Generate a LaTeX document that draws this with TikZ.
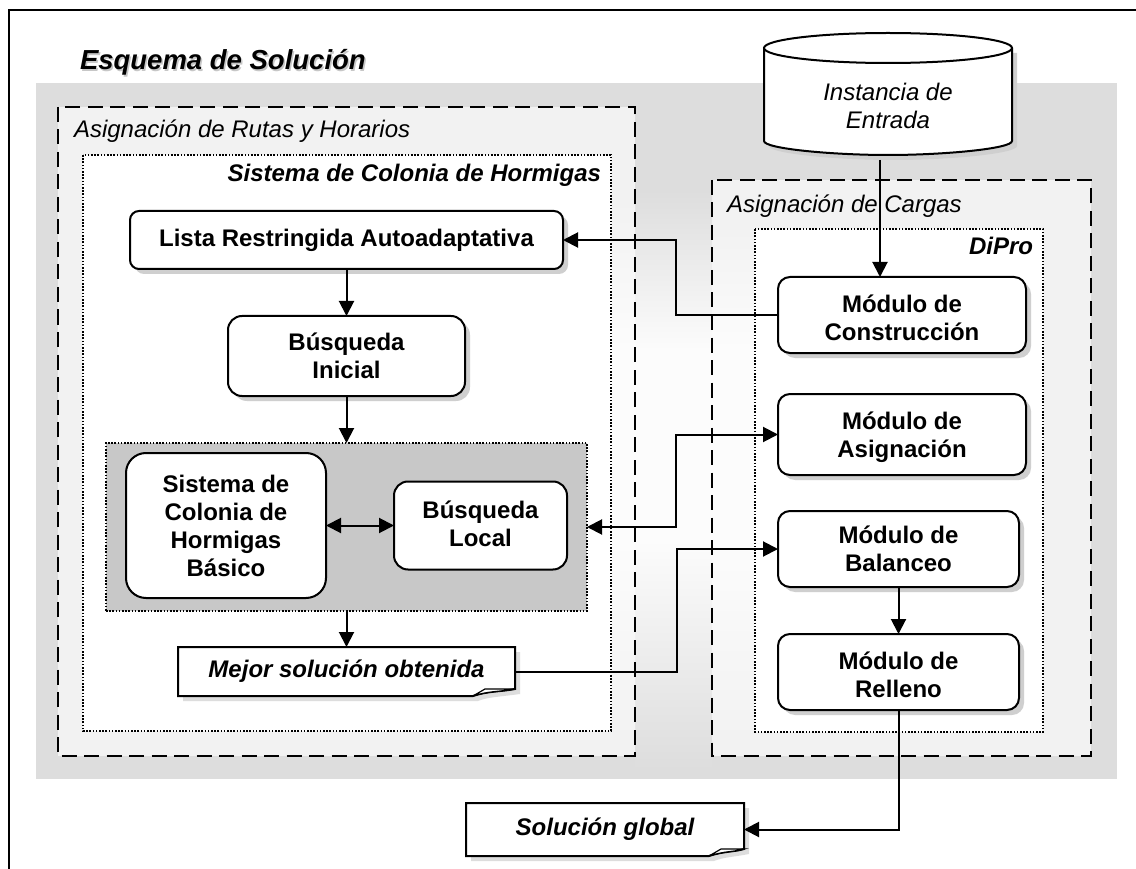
\documentclass[tikz,border=0pt]{standalone}
\usepackage{fontspec}
\setmainfont{Liberation Sans}
\usetikzlibrary{arrows.meta,shapes.geometric,shadows}
\definecolor{bandgray}{HTML}{DDDDDD}
\definecolor{panelgray}{HTML}{F2F2F2}
\definecolor{glow}{HTML}{FCFCFC}
\definecolor{innergray}{HTML}{C8C8C8}
\definecolor{shadowgray}{HTML}{CFCFCF}
\newcommand{\bfit}{\bfseries\itshape}
\newcommand{\dtext}{\fontsize{24}{28}\selectfont}
\newcommand{\toppad}{\rule{0pt}{24pt}}
\tikzset{
  base/.style={inner sep=0pt,outer sep=0pt,align=center,font=\dtext},
  modbox/.style={base,draw=black,line width=2pt,fill=white,font=\dtext\bfseries,
    drop shadow={shadow xshift=5pt,shadow yshift=-5pt,fill=shadowgray,opacity=1}},
  dashbox/.style={draw=black,line width=2pt,dash pattern=on 15pt off 7.5pt},
  dotbox/.style={draw=black,line width=1.5pt,dash pattern=on 1.6pt off 1.6pt},
  arr/.style={line width=2pt,-{Triangle[length=15pt,width=15pt]}},
  dblarr/.style={line width=2pt,{Triangle[length=15pt,width=15pt]}-{Triangle[length=15pt,width=15pt]}},
  label/.style={base,anchor=base west}
}
\newcommand{\docnode}[8]{%
  \fill[shadowgray!70] (#2+5,#3+5) -- (#4+5,#3+5) -- (#4+5,#7+5) .. controls (#6+25,#7+8) and (#6+15,#7+8) .. (#6+5,#5+5) -- (#2+5,#5+5) -- cycle;
  \draw[line width=2pt,fill=white,line join=miter] (#2,#3) -- (#4,#3) -- (#4,#7) .. controls (#6+25,#7+3) and (#6+15,#7+2) .. (#6,#5) -- (#2,#5) -- cycle;
  \draw[line width=1.2pt,fill=white] (#6,#5) -- (#6+12,#7) -- (#4,#7) .. controls (#6+25,#7+3) and (#6+15,#7+2) .. (#6,#5);
  \node[base,font=\dtext\bfit,minimum width=#4pt-#2pt,minimum height=#5pt-#3pt] (#1) at ({(#2+#4)/2},{(#3+#5)/2}) {#8};
}
\begin{document}
\begin{tikzpicture}[x=1pt,y=-1pt]
\useasboundingbox (0,0) rectangle (1136,869);
% outer frame
\coordinate (fa) at (1136,10); \coordinate (fb) at (9,10); \coordinate (fc) at (9,869);
\draw[line width=2.2pt] (fa) -- (fb) -- (fc);
% background band
\fill[bandgray] (36,83) rectangle (1117,779);
\fill[panelgray] (58,107) rectangle (635,756);
\fill[panelgray] (712,180) rectangle (1091,756);
% soft light region between the two panels
\shade[top color=bandgray,bottom color=glow] (635,190) rectangle (712,350);
\fill[glow] (635,350) rectangle (712,540);
\shade[top color=glow,bottom color=bandgray] (635,540) rectangle (712,770);
\shade[top color=panelgray,bottom color=glow] (611,200) rectangle (635,350);
\fill[glow] (611,350) rectangle (635,540);
\shade[top color=glow,bottom color=panelgray] (611,540) rectangle (635,740);
\shade[top color=panelgray,bottom color=glow] (712,230) rectangle (755,350);
\fill[glow] (712,350) rectangle (755,540);
\shade[top color=glow,bottom color=panelgray] (712,540) rectangle (755,740);
% panels
\draw[dashbox] (58,107) rectangle (635,756);
\draw[dashbox] (712,180) rectangle (1091,756);
\draw[dotbox,fill=white] (83,155) rectangle (611,731);
\draw[dotbox,fill=white] (755,229) rectangle (1043,732);
% labels
\node[label,font=\fontsize{27.5}{30}\selectfont\bfit,text=black!22] (titleshadow) at (81.5,71.5) {Esquema de Solución};
\node[label,font=\fontsize{27.5}{30}\selectfont\bfit] (title) at (80,70) {Esquema de Solución};
\node[label,font=\dtext\itshape] (lrutas) at (74,138) {Asignación de Rutas y Horarios};
\node[base,anchor=base east,font=\dtext\bfit] (lsch) at (601,182) {Sistema de Colonia de Hormigas};
\node[label,font=\dtext\itshape] (lcargas) at (727,213) {Asignación de Cargas};
\node[base,anchor=base east,font=\dtext\bfit] (ldipro) at (1033,255) {DiPro};
% grey group
\node[base,dotbox,fill=innergray,minimum width=481pt,minimum height=168pt] (inner) at (346.5,527) {};
% modules
\node[modbox,rounded corners=9pt,minimum width=433pt,minimum height=58pt] (lista) at (346.5,240) {Lista Restringida Autoadaptativa};
\node[modbox,rounded corners=14pt,minimum width=237pt,minimum height=80pt] (inicial) at (346.5,356) {Búsqueda\\Inicial};
\node[base,draw=black,line width=2pt,fill=white,font=\dtext\bfseries,rounded corners=20pt,minimum width=200pt,minimum height=145pt] (basico) at (226,525.5) {Sistema de\\Colonia de\\Hormigas\\Básico};
\node[base,draw=black,line width=2pt,fill=white,font=\dtext\bfseries,rounded corners=14pt,minimum width=173pt,minimum height=88pt] (local) at (480.5,525.5) {Búsqueda\\Local\rule[-4pt]{0pt}{4pt}};
\node[modbox,rounded corners=12pt,minimum width=248pt,minimum height=76pt] (constr) at (902,315) {\toppad Módulo de\\Construcción};
\node[modbox,rounded corners=12pt,minimum width=248pt,minimum height=81pt] (asig) at (902,434.5) {\toppad Módulo de\\Asignación};
\node[modbox,rounded corners=12pt,minimum width=241pt,minimum height=76pt] (bal) at (898.5,549) {Módulo de\\Balanceo};
\node[modbox,rounded corners=12pt,minimum width=241pt,minimum height=76pt] (rell) at (898.5,672) {\toppad Módulo de\\Relleno};
% database
\fill[shadowgray] (769,53) -- (769,146) .. controls (769,153.7) and (837,160) .. (893,160) .. controls (949,160) and (1017,153.7) .. (1017,146) -- (1017,53) -- cycle;
\draw[line width=2pt,fill=white] (764,48) -- (764,141) .. controls (764,148.7) and (832,155) .. (888,155) .. controls (944,155) and (1012,148.7) .. (1012,141) -- (1012,48);
\draw[line width=2pt,fill=white] (888,48) ellipse [x radius=124,y radius=15];
\node[base,font=\dtext\itshape] (cyl) at (888,106) {Instancia de\\Entrada};
% documents
\docnode{mejor}{178}{647}{515}{696}{473}{689}{Mejor solución obtenida}
\docnode{sol}{466}{803}{744}{856}{709}{849}{Solución global}
% connectors
\coordinate (cs) at (880,160); \coordinate (ct) at (880,277);
\draw[arr] (cs) -- (ct);
\draw[arr] (lista) -- (inicial);
\draw[arr] (inicial) -- (inner);
\draw[arr] (inner) -- (mejor);
\draw[dblarr] (basico) -- (local);
\coordinate (j1) at (676,315); \coordinate (j1b) at (676,240);
\draw[arr] (constr.west) -- (j1) -- (j1b) -- (lista.east);
\coordinate (j2) at (676,527); \coordinate (j2b) at (676,434.5);
\draw[dblarr] (inner.east) -- (j2) -- (j2b) -- (asig.west);
\coordinate (j3) at (677,671.5); \coordinate (j3b) at (677,549);
\draw[arr] (mejor.east) -- (j3) -- (j3b) -- (bal.west);
\draw[arr] (bal) -- (rell);
\coordinate (j4) at (898.5,829.5);
\draw[arr] (rell.south) -- (j4) -- (sol.east);
\end{tikzpicture}
\end{document}
